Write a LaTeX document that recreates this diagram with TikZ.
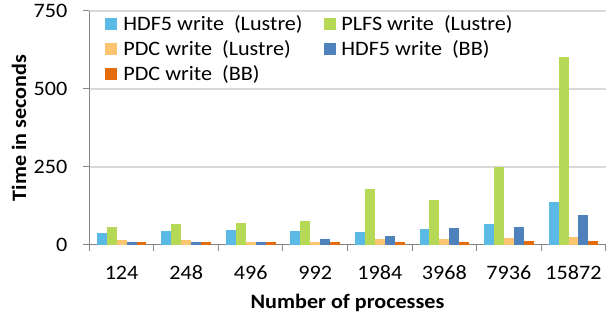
\documentclass[tikz,border=0pt]{standalone}
\usepackage{fontspec}
\setmainfont[FakeStretch=1.08]{Carlito}
\usetikzlibrary{positioning}
\definecolor{ser0}{RGB}{91,185,230}
\definecolor{ser1}{RGB}{181,216,86}
\definecolor{ser2}{RGB}{251,196,112}
\definecolor{ser3}{RGB}{79,129,189}
\definecolor{ser4}{RGB}{228,108,12}
\definecolor{gridgray}{RGB}{217,217,217}
\definecolor{axisgray}{RGB}{134,134,134}

\begin{document}
\begin{tikzpicture}[x=1pt, y=-1pt,
  every node/.style={font=\fontsize{20.5}{24}\selectfont, inner sep=0pt},
  gridln/.style={gridgray, line width=1.3pt},
  axisln/.style={axisgray, line width=1pt},
  ylab/.style={anchor=east},
  xlab/.style={anchor=center},
  key/.style={minimum size=12pt},
  keytext/.style={anchor=west},
  ttl/.style={font=\fontsize{20.5}{24}\selectfont\bfseries},
]
\useasboundingbox (0,0) rectangle (613,320);
% gridlines and axes
\foreach \t in {1,2,3}
  \draw[gridln] (89.3,{245-\t*78}) -- (606,{245-\t*78});
\draw[axisln] (89.3,11) -- (89.3,245) -- (606,245);
\foreach \t in {0,...,3}
  \draw[axisln] (83,{245-\t*78}) -- (89.3,{245-\t*78});
\foreach \k in {0,...,8}
  \draw[axisln] ({89.3+\k*64.55},245) -- ({89.3+\k*64.55},251.5);
% bars
\foreach \vals [count=\g from 0] in {{39,58,15,11,11},{44,68,15,11,11},{47,71,11,11,11},{44,76,11,19,11},{43,179,18,29,11},{50,143,18,53,11},{68,249,22,58,14},{137,603,26,97,14}}
  \foreach \v [count=\s from 0] in \vals
    \fill[ser\s] ({89.3+\g*64.55+7.5+\s*9.93},245) rectangle ++(9.93,{-\v*0.312});
% tick labels
\node[ylab] (y0) at (67.5,245) {0};
\node[ylab] (y250) at (67.5,167) {250};
\node[ylab] (y500) at (67.5,89) {500};
\node[ylab] (y750) at (67.5,11) {750};
\foreach \n [count=\g from 0] in {124,248,496,992,1984,3968,7936,15872}
  \node[xlab] (x\n) at ({89.3+\g*64.55+32.3},273) {\n};
\node[ttl, rotate=90] (ytitle) at (19,128) {Time in seconds};
\node[ttl] (xtitle) at (347.5,303) {Number of processes};
% legend
\node[key, fill=ser0] (k0) at (111,24) {};
\node[keytext, right=6pt of k0] (t0) {HDF5 write\ \ (Lustre)};
\node[key, fill=ser2] (k2) at (111,49) {};
\node[keytext, right=6pt of k2] (t2) {PDC write\ \ (Lustre)};
\node[key, fill=ser4] (k4) at (111,74) {};
\node[keytext, right=6pt of k4] (t4) {PDC write\ \ (BB)};
\node[key, fill=ser1] (k1) at (330,24) {};
\node[keytext, right=5pt of k1] (t1) {PLFS write\ \ (Lustre)};
\node[key, fill=ser3] (k3) at (330,49) {};
\node[keytext, right=5pt of k3] (t3) {HDF5 write\ \ (BB)};
\end{tikzpicture}
\end{document}
